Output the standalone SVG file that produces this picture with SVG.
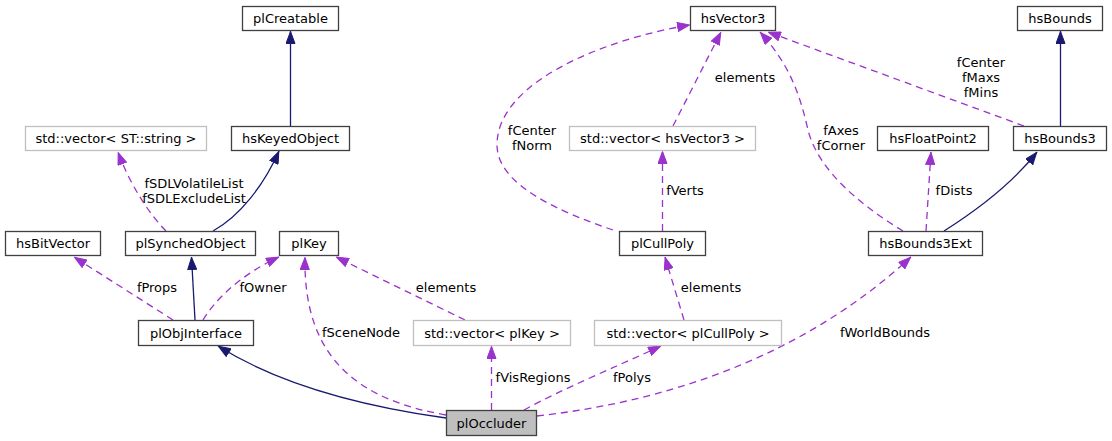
<svg xmlns="http://www.w3.org/2000/svg" width="1112" height="441" viewBox="0 0 1112 441">
<style>
.n rect{fill:#ffffff;stroke:#404040;stroke-width:1.3}
.n.g rect{stroke:#bfbfbf}
.n.f rect{fill:#bfbfbf;stroke:#404040}
text{font-family:"DejaVu Sans",sans-serif;font-size:13px;fill:#000000;text-anchor:middle}
.inh{fill:none;stroke:#191970;stroke-width:1.3;marker-end:url(#an)}
.use{fill:none;stroke:#9a32cd;stroke-width:1.3;stroke-dasharray:7,5;marker-end:url(#ap)}
</style>
<defs>
<marker id="an" markerUnits="userSpaceOnUse" viewBox="0 0 13 10" markerWidth="13" markerHeight="10" refX="13" refY="5" orient="auto"><path d="M0.5,0.5 L12.5,5 L0.5,9.5 z" fill="#191970" stroke="#191970"/></marker>
<marker id="ap" markerUnits="userSpaceOnUse" viewBox="0 0 13 10" markerWidth="13" markerHeight="10" refX="13" refY="5" orient="auto"><path d="M0.5,0.5 L12.5,5 L0.5,9.5 z" fill="#9a32cd" stroke="#9a32cd"/></marker>
</defs>
<g id="edges">
<path class="inh" d="M290.5,126 L290.5,31"/>
<path class="inh" d="M213,231 C240,216 264,185 279,151"/>
<path class="use" d="M166,231 C150,215 130,185 118,152"/>
<text x="194" y="188">fSDLVolatileList</text>
<text x="194" y="203">fSDLExcludeList</text>
<path class="inh" d="M195,320 L191.5,257"/>
<path class="use" d="M173,320 L74,257"/>
<text x="157" y="292">fProps</text>
<path class="use" d="M203,320 C215,300 240,275 279,257"/>
<text x="263" y="292">fOwner</text>
<path class="inh" d="M446,418 C360,406 280,385 218,346"/>
<path class="use" d="M446,415 C360,400 303,360 305,257"/>
<text x="361" y="337">fSceneNode</text>
<path class="use" d="M465,320 L336,257"/>
<text x="446" y="292">elements</text>
<path class="use" d="M491.5,410 L491.5,346"/>
<text x="533" y="382">fVisRegions</text>
<path class="use" d="M524,410 C560,390 620,365 661,346"/>
<text x="632" y="382">fPolys</text>
<path class="use" d="M684,320 L665,257"/>
<text x="711" y="292">elements</text>
<path class="use" d="M662.5,231 L662.5,151"/>
<text x="685" y="195">fVerts</text>
<path class="use" d="M613,230 C560,212 497,185 497,145 C497,80 610,38 690,25"/>
<text x="532" y="135">fCenter</text>
<text x="532" y="150">fNorm</text>
<path class="use" d="M673,126 L721,32"/>
<text x="745" y="82">elements</text>
<path class="use" d="M903,231 C860,205 818,170 808,130 C800,95 790,65 760,32"/>
<text x="841" y="135">fAxes</text>
<text x="841" y="150">fCorner</text>
<path class="use" d="M1024,126 L768,32"/>
<text x="981" y="67">fCenter</text>
<text x="981" y="82">fMaxs</text>
<text x="981" y="97">fMins</text>
<path class="inh" d="M1060.5,126 L1060.5,31"/>
<path class="use" d="M926,231 L931,152"/>
<text x="954" y="195">fDists</text>
<path class="inh" d="M944,231 C985,205 1015,180 1037,152"/>
<path class="use" d="M537,416 C680,400 810,350 911,257"/>
<text x="885" y="337">fWorldBounds</text>
</g>
<g id="plCreatable" class="n"><rect x="242.5" y="6.5" width="96" height="24"/><text x="290.5" y="23">plCreatable</text></g>
<g id="hsKeyedObject" class="n"><rect x="231.5" y="126.5" width="118" height="24"/><text x="290.5" y="143">hsKeyedObject</text></g>
<g id="vecSTstring" class="n g"><rect x="25.5" y="126.5" width="181" height="24"/><text x="116" y="143">std::vector&lt; ST::string &gt;</text></g>
<g id="hsBitVector" class="n"><rect x="5.5" y="231.5" width="95" height="24"/><text x="53" y="248">hsBitVector</text></g>
<g id="plSynchedObject" class="n"><rect x="125.5" y="231.5" width="130" height="24"/><text x="190.5" y="248">plSynchedObject</text></g>
<g id="plKey" class="n"><rect x="279.5" y="231.5" width="59" height="24"/><text x="309" y="248">plKey</text></g>
<g id="plObjInterface" class="n"><rect x="138.5" y="320.5" width="115" height="25"/><text x="196" y="338">plObjInterface</text></g>
<g id="vecPlKey" class="n g"><rect x="413.5" y="320.5" width="157" height="25"/><text x="492" y="338">std::vector&lt; plKey &gt;</text></g>
<g id="vecPlCullPoly" class="n g"><rect x="594.5" y="320.5" width="187" height="25"/><text x="688" y="338">std::vector&lt; plCullPoly &gt;</text></g>
<g id="plOccluder" class="n f"><rect x="446.5" y="410.5" width="90" height="25"/><text x="491.5" y="428">plOccluder</text></g>
<g id="plCullPoly" class="n"><rect x="619.5" y="231.5" width="86" height="24"/><text x="662.5" y="248">plCullPoly</text></g>
<g id="hsVector3" class="n"><rect x="690.5" y="6.5" width="85" height="24"/><text x="733" y="23">hsVector3</text></g>
<g id="vecHsVector3" class="n g"><rect x="569.5" y="126.5" width="186" height="24"/><text x="662.5" y="143">std::vector&lt; hsVector3 &gt;</text></g>
<g id="hsBounds" class="n"><rect x="1017.5" y="6.5" width="85" height="24"/><text x="1060" y="23">hsBounds</text></g>
<g id="hsFloatPoint2" class="n"><rect x="877.5" y="126.5" width="111" height="24"/><text x="933" y="143">hsFloatPoint2</text></g>
<g id="hsBounds3" class="n"><rect x="1013.5" y="126.5" width="93" height="24"/><text x="1060" y="143">hsBounds3</text></g>
<g id="hsBounds3Ext" class="n"><rect x="868.5" y="231.5" width="114" height="24"/><text x="925.5" y="248">hsBounds3Ext</text></g>
</svg>
